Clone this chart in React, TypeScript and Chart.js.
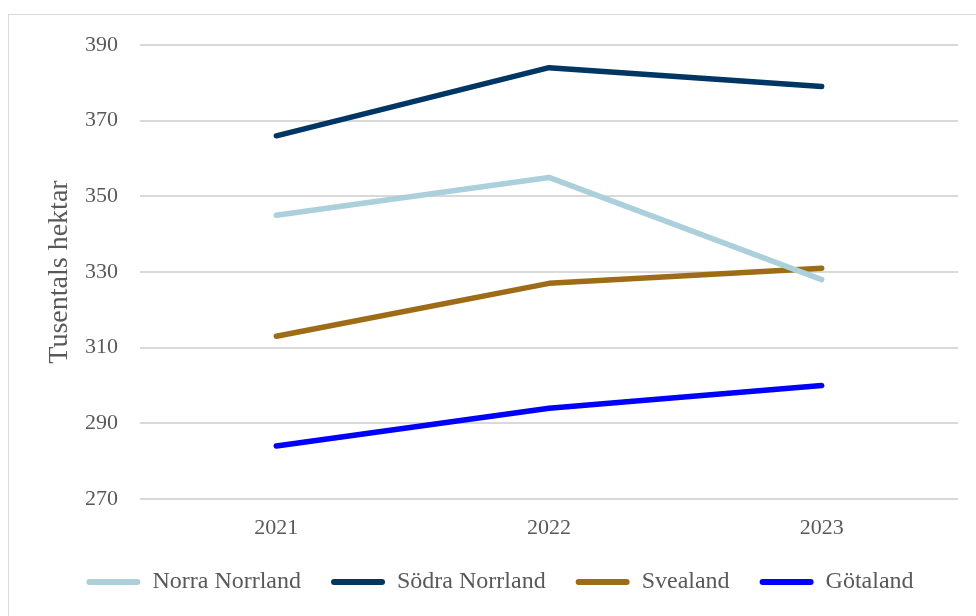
import React, { useEffect, useRef } from "react";
import { Chart, registerables } from "chart.js";

Chart.register(...registerables);

const years = ["2021", "2022", "2023"];
const norraNorrland = [345, 355, 328];
const sodraNorrland = [366, 384, 379];
const svealand = [313, 327, 331];
const gotaland = [284, 294, 300];
const yTicks = [270, 290, 310, 330, 350, 370, 390];

const FONT = "'Liberation Serif', 'Times New Roman', serif";
const TEXT = "#595959";

const legendHeightPlugin = {
  id: "legendHeight",
  beforeInit(chart: any) {
    const lg = chart.legend;
    if (!lg) return;
    const orig = lg.fit;
    lg.fit = function () {
      orig.call(this);
      this.height = 76;
    };
  },
};

export default function App() {
  const ref = useRef<HTMLCanvasElement | null>(null);

  useEffect(() => {
    if (!ref.current) return;
    const mk = (label: string, data: number[], color: string) => ({
      label,
      data,
      borderColor: color,
      backgroundColor: color,
      borderWidth: 5.5,
      borderCapStyle: "round" as const,
      borderJoinStyle: "round" as const,
      pointRadius: 0,
      pointHoverRadius: 0,
      tension: 0,
      fill: false,
    });
    const chart = new Chart(ref.current, {
      type: "line",
      data: {
        labels: years,
        datasets: [
          mk("Norra Norrland", norraNorrland, "#abcfdb"),
          mk("Södra Norrland", sodraNorrland, "#003663"),
          mk("Svealand", svealand, "#9e6c17"),
          mk("Götaland", gotaland, "#0000ff"),
        ],
      },
      plugins: [legendHeightPlugin],
      options: {
        animation: false,
        responsive: false,
        maintainAspectRatio: false,
        layout: { padding: { left: 42, right: 18, top: 45, bottom: 0 } },
        scales: {
          x: {
            offset: true,
            grid: { display: false, drawTicks: false },
            border: { display: false },
            ticks: {
              color: TEXT,
              padding: 16,
              font: { family: FONT, size: 22 },
            },
            afterFit: (s: any) => {
              s.height = 41;
            },
          },
          y: {
            min: 270,
            max: 390,
            afterBuildTicks: (s: any) => {
              s.ticks = yTicks.map((v) => ({ value: v }));
            },
            grid: { color: "#d9d9d9", lineWidth: 2, drawTicks: false },
            border: { display: false },
            ticks: {
              color: TEXT,
              padding: 22,
              font: { family: FONT, size: 22 },
            },
            title: {
              display: true,
              text: "Tusentals hektar",
              color: TEXT,
              padding: { top: 1, bottom: 0 },
              font: { family: FONT, size: 28 },
            },
            afterFit: (s: any) => {
              s.width = 98;
            },
          },
        },
        plugins: {
          tooltip: { enabled: false },
          legend: {
            position: "bottom",
            labels: {
              color: TEXT,
              font: { family: FONT, size: 24 },
              boxWidth: 54,
              boxHeight: 6,
              padding: 30,
              generateLabels: (c: any) =>
                c.data.datasets.map((d: any, i: number) => ({
                  text: d.label,
                  fillStyle: d.borderColor,
                  strokeStyle: d.borderColor,
                  lineWidth: 0,
                  borderRadius: 3,
                  hidden: false,
                  datasetIndex: i,
                  fontColor: TEXT,
                })),
            },
          },
        },
      },
    });
    return () => chart.destroy();
  }, []);

  return (
    <div style={{ position: "absolute", left: 0, top: 0, width: 976, height: 616, overflow: "hidden", background: "#fff" }}>
      <div
        style={{
          position: "absolute",
          left: 8,
          top: 14,
          width: 980,
          height: 620,
          borderTop: "1.5px solid #d9d9d9",
          borderLeft: "1.5px solid #d9d9d9",
        }}
      />
      <canvas ref={ref} width={976} height={616} style={{ position: "absolute", left: 0, top: 0, width: 976, height: 616 }} />
    </div>
  );
}
